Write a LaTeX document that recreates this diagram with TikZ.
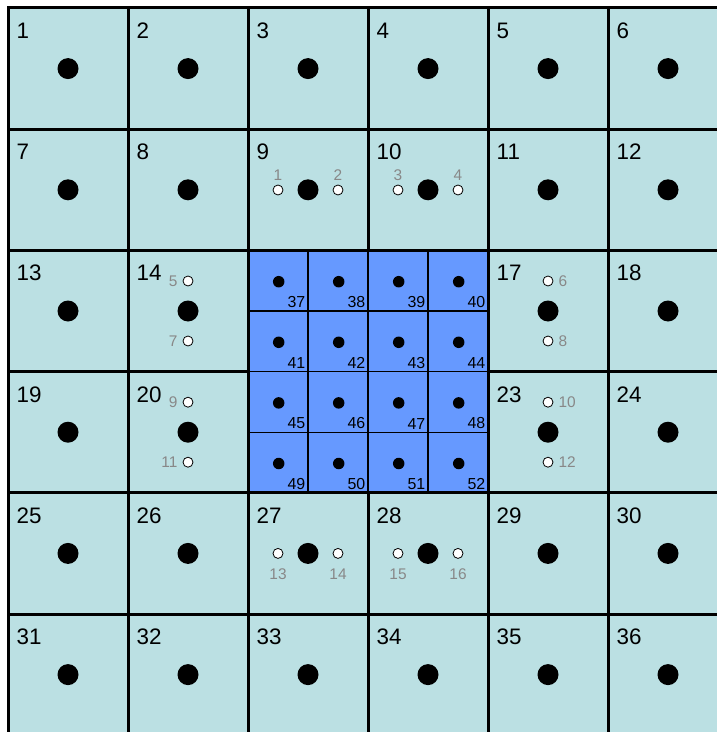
\documentclass[tikz,border=0pt]{standalone}
\usepackage{fontspec}
\setmainfont{Liberation Sans}
\usetikzlibrary{positioning}
\definecolor{cellbg}{RGB}{187,224,227}
\definecolor{finebg}{RGB}{102,153,255}
\definecolor{ghostgray}{RGB}{136,136,136}
\tikzset{
  coarse/.style={line width=3bp},
  fine/.style={line width=1.3bp},
  bigdot/.style={circle,fill=black,inner sep=0pt,minimum size=21bp},
  finedot/.style={circle,fill=black,inner sep=0pt,minimum size=11.5bp},
  ghost/.style={circle,draw=black,line width=0.8bp,fill=white,inner sep=0pt,minimum size=10bp},
  cellnum/.style={anchor=base west,inner sep=0pt,font=\fontsize{22.5}{23}\selectfont},
  finenum/.style={anchor=south east,inner sep=0pt,font=\fontsize{16}{17}\selectfont},
  ghostnum/.style={inner sep=0pt,text=ghostgray,font=\fontsize{15.5}{16}\selectfont}
}
\begin{document}
\begin{tikzpicture}[x=1bp,y=-1bp]
  \useasboundingbox (0,0) rectangle (717,732);
  \fill[cellbg] (8,8) rectangle (728,735);
  \fill[finebg] (248,250.4) rectangle (488,492.8);
  % big cells
  \foreach \r in {0,...,5}
    \foreach \c in {0,...,5} {
      \pgfmathtruncatemacro\n{6*\r+\c+1}
      \pgfmathtruncatemacro\inner{and(and(\r>1,\r<4),and(\c>1,\c<4))}
      \ifnum\inner=0
        \draw[coarse] (8+120*\c,8+121.2*\r) rectangle ++(120,121.2);
        \node[cellnum] (l\n) at (16.5+120*\c,38.5+121.2*\r) {\n};
        \node[bigdot] (d\n) at (68+120*\c,68.6+121.2*\r) {};
      \fi
    }
  % fine cells
  \foreach \i in {1,2,3} {
    \draw[fine] (248+60*\i,250.4) -- ++(0,242.4);
    \draw[fine] (248,250.4+60.6*\i) -- ++(240,0);
  }
  \draw[coarse] (248,250.4) rectangle (488,492.8);
  \foreach \r in {0,...,3}
    \foreach \c in {0,...,3} {
      \pgfmathtruncatemacro\k{37+4*\r+\c}
      \node[finedot] (f\k) at (278.7+60*\c,281.7+60.6*\r) {};
      \node[finenum] (m\k) at (305.5+60*\c,308+60.6*\r) {\k};
    }
  % ghost points
  \foreach \k/\x/\y/\pos/\gap in {1/278/190/above/4, 2/338/190/above/4,
      3/398/190/above/4, 4/458/190/above/4,
      5/188/281/left/5, 7/188/341/left/5, 9/188/402.2/left/5, 11/188/462.2/left/5,
      6/548/281/right/5, 8/548/341/right/5, 10/548/402.2/right/5, 12/548/462.2/right/5,
      13/278/553.4/below/10, 14/338/553.4/below/10,
      15/398/553.4/below/10, 16/458/553.4/below/10} {
    \node[ghost] (g\k) at (\x,\y) {};
    \node[ghostnum,\pos=\gap bp of g\k] (t\k) {\k};
  }
\end{tikzpicture}
\end{document}
